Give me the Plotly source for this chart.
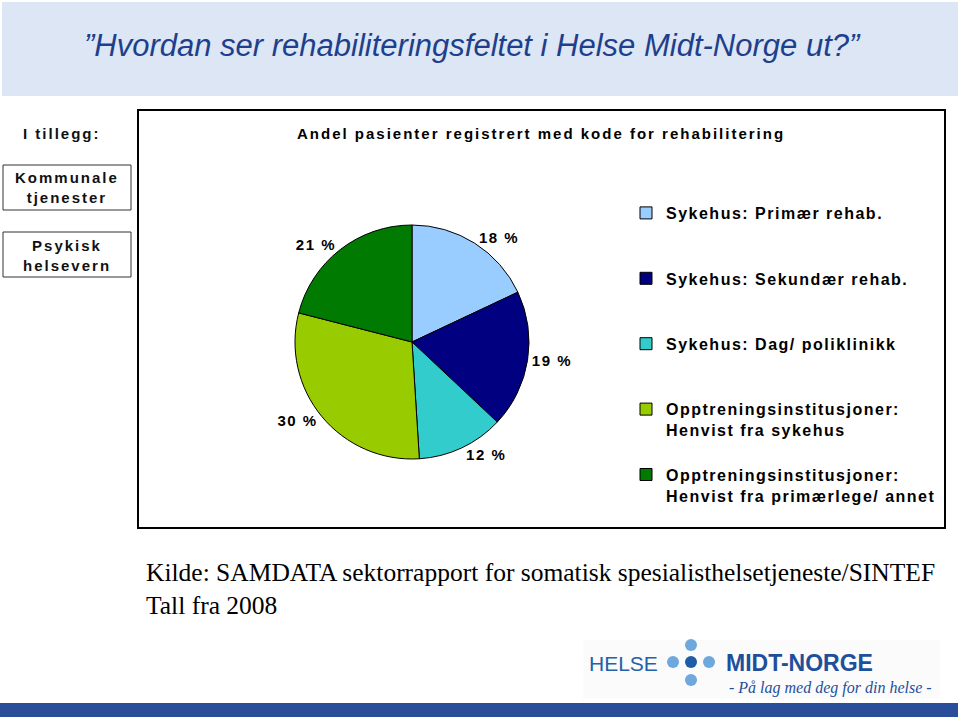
import plotly.graph_objects as go

W, H = 960, 720

categories = [
    "Sykehus: Primær rehab.",
    "Sykehus: Sekundær rehab.",
    "Sykehus: Dag/ poliklinikk",
    "Opptreningsinstitusjoner: Henvist fra sykehus",
    "Opptreningsinstitusjoner: Henvist fra primærlege/ annet",
]
legend_lines = [
    ["Sykehus: Primær rehab."],
    ["Sykehus: Sekundær rehab."],
    ["Sykehus: Dag/ poliklinikk"],
    ["Opptreningsinstitusjoner:", "Henvist fra sykehus"],
    ["Opptreningsinstitusjoner:", "Henvist fra primærlege/ annet"],
]
values = [18, 19, 12, 30, 21]
colors = ["#99CCFF", "#000080", "#33CCCC", "#99CC00", "#007A00"]

title_text = "”Hvordan ser rehabiliteringsfeltet i Helse Midt-Norge ut?”"
chart_title = "Andel pasienter registrert med kode for rehabilitering"
source_lines = ["Kilde: SAMDATA sektorrapport for somatisk spesialisthelsetjeneste/SINTEF", "Tall fra 2008"]


def px_x(x):
    return x / W


def px_y(y):
    return 1 - y / H


def sp(t, ls=2):
    return f"<span style='letter-spacing:{ls}px'>{t}</span>"


NB = "\u00a0"
legend_labels = []
for lines in legend_lines:
    parts = [sp(l, 1.5) for l in lines]
    pad = 2 if len(lines) == 1 else 1
    parts += [NB] * pad
    legend_labels.append("<br>".join(parts))

fig = go.Figure()
fig.add_trace(go.Pie(
    labels=legend_labels,
    values=values,
    customdata=categories,
    sort=False,
    direction="clockwise",
    rotation=0,
    marker=dict(colors=colors, line=dict(color="black", width=1)),
    texttemplate=sp("%{value} %", 1.5),
    textposition="outside",
    textfont=dict(family="Liberation Sans, Arial", size=15, color="black", weight="bold"),
    hovertemplate="%{customdata}: %{value} %<extra></extra>",
    domain=dict(x=[px_x(295), px_x(529)], y=[px_y(459), px_y(225)]),
    showlegend=True,
))

shapes = [
    # title band
    dict(type="rect", xref="paper", yref="paper", x0=px_x(2), x1=px_x(958), y0=px_y(96), y1=px_y(2),
         fillcolor="#DCE6F4", line=dict(width=0), layer="below"),
    # chart box
    dict(type="rect", xref="paper", yref="paper", x0=px_x(138), x1=px_x(945), y0=px_y(528), y1=px_y(110),
         fillcolor="rgba(0,0,0,0)", line=dict(color="black", width=2)),
    # left boxes
    dict(type="rect", xref="paper", yref="paper", x0=px_x(3), x1=px_x(131), y0=px_y(210), y1=px_y(165),
         line=dict(color="#333333", width=1)),
    dict(type="rect", xref="paper", yref="paper", x0=px_x(3), x1=px_x(131), y0=px_y(277), y1=px_y(232),
         line=dict(color="#333333", width=1)),
    # logo background
    dict(type="rect", xref="paper", yref="paper", x0=px_x(583), x1=px_x(940), y0=px_y(699), y1=px_y(640),
         fillcolor="#FBFBFB", line=dict(width=0), layer="below"),
    # bottom bar
    dict(type="rect", xref="paper", yref="paper", x0=0, x1=px_x(958), y0=px_y(717), y1=px_y(703),
         fillcolor="#2B4E9B", line=dict(width=0)),
]
# logo dots
dots = [(691, 645, "#6FA8DC", 6), (673, 662, "#6FA8DC", 6), (691, 662, "#1F5BA6", 6),
        (709, 662, "#6FA8DC", 6), (691, 680, "#6FA8DC", 6)]
for cx, cy, c, r in dots:
    shapes.append(dict(type="circle", xref="paper", yref="paper",
                       x0=px_x(cx - r), x1=px_x(cx + r), y0=px_y(cy + r), y1=px_y(cy - r),
                       fillcolor=c, line=dict(width=0)))

B = "Liberation Sans, Arial"
annotations = [
    dict(text=title_text, x=px_x(472), y=px_y(45), xanchor="center", yanchor="middle",
         font=dict(family=B, size=31, color="#1F3F8C", style="italic")),
    dict(text=sp(chart_title, 2), x=px_x(541), y=px_y(133), xanchor="center", yanchor="middle",
         font=dict(family=B, size=15, color="black", weight="bold")),
    dict(text=sp("I tillegg:"), x=px_x(62), y=px_y(133), xanchor="center", yanchor="middle",
         font=dict(family=B, size=15, color="#111111", weight="bold")),
    dict(text=sp("Kommunale") + "<br>" + sp("tjenester"), x=px_x(67), y=px_y(188), xanchor="center",
         yanchor="middle", font=dict(family=B, size=15, color="#111111", weight="bold")),
    dict(text=sp("Psykisk") + "<br>" + sp("helsevern"), x=px_x(67), y=px_y(255), xanchor="center",
         yanchor="middle", font=dict(family=B, size=15, color="#111111", weight="bold")),
    dict(text=source_lines[0], x=px_x(144), y=px_y(572), xanchor="left", yanchor="middle",
         font=dict(family="Liberation Serif, Times New Roman", size=25.5, color="black")),
    dict(text=source_lines[1], x=px_x(144), y=px_y(605), xanchor="left", yanchor="middle",
         font=dict(family="Liberation Serif, Times New Roman", size=25.5, color="black")),
    dict(text="HELSE", x=px_x(587), y=px_y(663), xanchor="left", yanchor="middle",
         font=dict(family=B, size=21, color="#2262AC")),
    dict(text="MIDT-NORGE", x=px_x(724), y=px_y(663), xanchor="left", yanchor="middle",
         font=dict(family=B, size=23, color="#1E4F9C", weight="bold")),
    dict(text="- På lag med deg for din helse -", x=px_x(727), y=px_y(688), xanchor="left", yanchor="middle",
         font=dict(family="Liberation Serif, Times New Roman", size=16, color="#1E4F9C", style="italic")),
]
for a in annotations:
    a.update(xref="paper", yref="paper", showarrow=False)

fig.update_layout(
    width=W, height=H,
    margin=dict(l=0, r=0, t=0, b=0),
    paper_bgcolor="white",
    plot_bgcolor="white",
    shapes=shapes,
    annotations=annotations,
    legend=dict(
        x=px_x(626), y=px_y(196), xanchor="left", yanchor="top",
        font=dict(family=B, size=16, color="black", weight="bold"),
        valign="top", bgcolor="rgba(0,0,0,0)", itemclick=False, itemdoubleclick=False,
    ),
)

fig.write_html("out.html", config={"displayModeBar": False},
               post_script="document.body.style.margin='0px';")
